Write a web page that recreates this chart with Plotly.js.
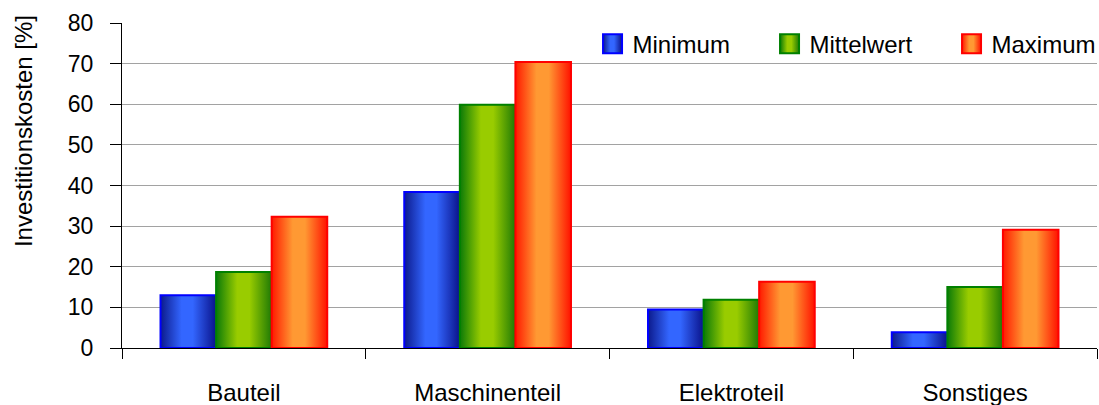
<!DOCTYPE html>
<html>
<head>
<meta charset="utf-8">
<script src="https://cdn.plot.ly/plotly-3.0.1.min.js"></script>
<style>
  html, body { margin: 0; padding: 0; background: #fff; }
  #chart { width: 1099px; height: 405px; }
</style>
</head>
<body>
<div id="chart"></div>
<script>
// Investment cost shares per cost group (percent)
const categories = ['Bauteil', 'Maschinenteil', 'Elektroteil', 'Sonstiges'];
const seriesNames = ['Minimum', 'Mittelwert', 'Maximum'];
const minimum    = [13.0, 38.4,  9.5,  3.9];
const mittelwert = [18.7, 59.9, 11.9, 15.0];
const maximum    = [32.3, 70.4, 16.3, 29.1];
const yTicks = [0, 10, 20, 30, 40, 50, 60, 70, 80];

const FONT = '"Liberation Sans", Arial, Helvetica, sans-serif';

// per-series look: outline colour, flat fallback fill, horizontal shading stops
const seriesStyle = [
  { line: '#0000ff', fill: '#3366ff',
    stops: [[0, '#0c1a8c'], [0.38, '#3366ff'], [0.58, '#3366ff'], [1, '#0a128a']] },
  { line: '#008000', fill: '#99cc00',
    stops: [[0, '#0b7a08'], [0.38, '#99cc00'], [0.6, '#99cc00'], [1, '#1f7a05']] },
  { line: '#ff0000', fill: '#ff9933',
    stops: [[0, '#ff1a00'], [0.38, '#ff9933'], [0.6, '#ff9933'], [1, '#ff1200']] }
];
const legendWidths = [132, 137, 95];

const values = [minimum, mittelwert, maximum];
const traces = values.map((vals, i) => ({
  type: 'bar',
  name: seriesNames[i],
  x: categories,
  y: vals,
  legendwidth: legendWidths[i],
  marker: { color: seriesStyle[i].fill, line: { color: seriesStyle[i].line, width: 2 } },
  hoverinfo: 'skip'
}));

const layout = {
  width: 1099,
  height: 405,
  margin: { l: 122, r: 2, t: 23, b: 57 },
  paper_bgcolor: '#ffffff',
  plot_bgcolor: '#ffffff',
  font: { family: FONT, size: 23, color: '#000' },
  barmode: 'group',
  bargap: 0.316,
  bargroupgap: 0,
  showlegend: true,
  legend: {
    orientation: 'h',
    x: 0.4826, xanchor: 'left',
    y: 0.935, yanchor: 'middle',
    bgcolor: 'rgba(0,0,0,0)',
    font: { family: FONT, size: 24, color: '#000' },
    traceorder: 'normal'
  },
  xaxis: {
    type: 'category',
    showline: true, linecolor: '#000', linewidth: 1,
    ticks: 'outside', tickson: 'boundaries', ticklen: 10, tickcolor: '#000', tickwidth: 1,
    ticklabelstandoff: 23,
    showgrid: false, zeroline: false,
    tickfont: { family: FONT, size: 24, color: '#000' }
  },
  yaxis: {
    range: [0, 80],
    tickvals: yTicks,
    showline: true, linecolor: '#000', linewidth: 1,
    ticks: 'outside', ticklen: 11, tickcolor: '#000', tickwidth: 1,
    ticklabelstandoff: 12,
    showgrid: true, gridcolor: '#a2a2a2', gridwidth: 1,
    zeroline: true, zerolinecolor: '#000', zerolinewidth: 1,
    tickfont: { family: FONT, size: 23, color: '#000' }
  },
  annotations: [{
    text: 'Investitionskosten [%]',
    xref: 'paper', yref: 'paper',
    x: -0.101, y: 0.666,
    xanchor: 'center', yanchor: 'middle',
    textangle: -90,
    showarrow: false,
    font: { family: FONT, size: 24, color: '#000' }
  }]
};

// horizontal shading for bars and legend swatches
function applyShading(gd) {
  const NS = 'http://www.w3.org/2000/svg';
  const svg = gd.querySelector('svg.main-svg');
  let defs = svg.querySelector('defs');
  if (!defs) { defs = document.createElementNS(NS, 'defs'); svg.insertBefore(defs, svg.firstChild); }
  seriesStyle.forEach((s, i) => {
    const g = document.createElementNS(NS, 'linearGradient');
    g.setAttribute('id', 'barShade' + i);
    g.setAttribute('x1', '0'); g.setAttribute('y1', '0');
    g.setAttribute('x2', '1'); g.setAttribute('y2', '0');
    s.stops.forEach(([o, c]) => {
      const st = document.createElementNS(NS, 'stop');
      st.setAttribute('offset', o);
      st.setAttribute('stop-color', c);
      g.appendChild(st);
    });
    defs.appendChild(g);
  });
  gd.querySelectorAll('.barlayer .trace.bars').forEach((tr, i) => {
    tr.querySelectorAll('path').forEach(p => { p.style.fill = 'url(#barShade' + i + ')'; });
  });
  gd.querySelectorAll('.legend .traces').forEach((tr, i) => {
    tr.querySelectorAll('.legendpoints path').forEach(p => {
      p.setAttribute('d', 'M9.5,9.5H-9.5V-9.5H9.5Z');
      p.style.fill = 'url(#barShade' + i + ')';
      p.style.strokeWidth = '2px';
    });
  });
  // let the last legend label run past the fixed entry width
  gd.querySelectorAll('.legend [clip-path]').forEach(e => e.removeAttribute('clip-path'));
}

Plotly.newPlot('chart', traces, layout, { staticPlot: true, displayModeBar: false })
  .then(applyShading);
</script>
</body>
</html>
